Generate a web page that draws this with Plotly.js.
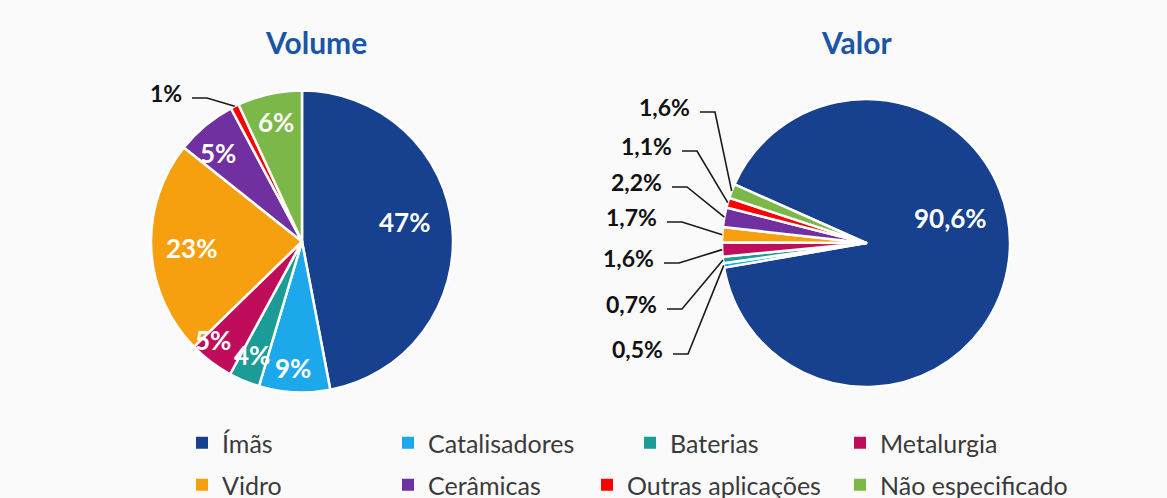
<!DOCTYPE html>
<html><head><meta charset="utf-8">
<script src="https://cdn.plot.ly/plotly-3.0.1.min.js"></script>
<style>html,body{margin:0;padding:0;background:#fafafa}</style>
</head><body><div id="chart" style="width:1167px;height:498px"></div>
<script>
// ---- data ----
const categories = ['Ímãs','Catalisadores','Baterias','Metalurgia','Vidro','Cerâmicas','Outras aplicações','Não especificado'];
const volumeValues = [47, 7.6, 3.3, 4.8, 23, 6.5, 0.9, 6.9];          // slice shares as drawn
const volumeLabels = ['47%','9%','4%','5%','23%','5%','1%','6%'];     // printed labels
const valorValues = [90.6, 0.5, 0.7, 1.6, 1.7, 2.2, 1.1, 1.6];
const colors = ['#17408f','#1ea8ec','#1b9c96','#c00d5b','#f7a00f','#7030a0','#ff0000','#7cb848'];
const chartTitles = ['Volume','Valor'];

// ---- layout constants (pixels) ----
const W = 1167, H = 498;
const FONT = 'Lato, "Open Sans", sans-serif';
const VOL = {cx: 302, cy: 241.5, r: 151, rot: 0};
const VAL = {cx: 866, cy: 243, r: 144, rot: -66};
// inside label placement: radial fraction and angular offset from slice middle
const volumeLabelR  = [0.69, 0.84, 0.82, 0.88, 0.73, 0.81, null, 0.81];
const volumeLabelDA = [-5.3, 1.1, 1.3, 4.9, -0.5, -3.7, 0, 0.1];
const valorLabelR  = [0.61, null, null, null, null, null, null, null];
const valorLabelDA = [-23.7, 0, 0, 0, 0, 0, 0, 0];
// outside labels: leader-line start x and y
const volumeLeaderX = [null, null, null, null, null, null, 192, null];
const volumeLeaderY = [null, null, null, null, null, null, 98, null];
const valorLeaderX = [null, 673, 667, 664, 667, 672, 682, 700];
const valorLeaderY = [null, 354, 309, 263, 222, 187, 151, 112];
// legend entries: text start x and centre y of each entry
const legendTextX = [222, 428, 670, 880, 222, 428, 627, 880];
const legendRowY = [443, 485];

const px = x => x / W, py = y => 1 - y / H;
function dom(p) {
  return {x: [px(p.cx - p.r), px(p.cx + p.r)], y: [py(p.cy + p.r), py(p.cy - p.r)]};
}
function midAngles(values, rot) {
  const total = values.reduce((a, b) => a + b, 0);
  let cum = 0;
  return values.map(v => { const m = rot + (cum + v / 2) / total * 360; cum += v; return m; });
}
function polar(p, deg, f) {
  const a = deg * Math.PI / 180;
  return [p.cx + f * p.r * Math.sin(a), p.cy - f * p.r * Math.cos(a)];
}

const pieBase = {
  type: 'pie', labels: categories, sort: false, direction: 'clockwise',
  textinfo: 'none', marker: {colors: colors, line: {color: '#ffffff', width: 2.5}},
  showlegend: false, hoverinfo: 'label+percent'
};
const volumePie = Object.assign({}, pieBase, {values: volumeValues, rotation: VOL.rot, domain: dom(VOL)});
const valorPie = Object.assign({}, pieBase, {values: valorValues, rotation: VAL.rot, domain: dom(VAL)});

const legendKey = i => i === 0 ? 'legend' : 'legend' + (i + 1);
const legendTraces = categories.map((c, i) => ({
  type: 'scatter', mode: 'markers', x: [null], y: [null], name: c,
  marker: {symbol: 'square', size: 12, color: colors[i]},
  legend: legendKey(i), hoverinfo: 'skip'
}));

const annotations = [];
const shapes = [];
const inFont = {family: FONT, size: 26, weight: 'bold', color: '#ffffff'};
const outFont = {family: FONT, size: 23, weight: 'bold', color: '#111111'};

function addLabels(p, values, texts, rArr, daArr, lxArr, lyArr) {
  const mids = midAngles(values, p.rot);
  values.forEach((v, i) => {
    if (rArr[i] != null) {
      const [x, y] = polar(p, mids[i] + daArr[i], rArr[i]);
      annotations.push({text: texts[i], x: px(x), y: py(y), xanchor: 'center', yanchor: 'middle', font: inFont});
    } else if (lxArr[i] != null) {
      const [ex, ey] = polar(p, mids[i], 1);
      const x0 = lxArr[i], y0 = lyArr[i], x1 = x0 + 15;
      shapes.push({type: 'path', xref: 'paper', yref: 'paper',
        path: `M${px(x0)},${py(y0)} L${px(x1)},${py(y0)} L${px(ex)},${py(ey)}`,
        line: {color: '#1a1a1a', width: 1.6}});
      annotations.push({text: texts[i], x: px(x0 - 8), y: py(y0 - 5), xanchor: 'right', yanchor: 'middle', font: outFont});
    }
  });
}
const valorTexts = valorValues.map(v => v.toFixed(1).replace('.', ',') + '%');
addLabels(VOL, volumeValues, volumeLabels, volumeLabelR, volumeLabelDA, volumeLeaderX, volumeLeaderY);
addLabels(VAL, valorValues, valorTexts, valorLabelR, valorLabelDA, valorLeaderX, valorLeaderY);

annotations.push(
  {text: chartTitles[0], x: px(316), y: py(42)},
  {text: chartTitles[1], x: px(856), y: py(42)}
);
annotations.forEach(a => Object.assign(a, {xref: 'paper', yref: 'paper', showarrow: false}));
annotations.slice(-2).forEach(a => Object.assign(a, {xanchor: 'center', yanchor: 'middle',
  font: {family: FONT, size: 30, weight: 'bold', color: '#1a55a6'}}));

const layout = {
  width: W, height: H, margin: {l: 0, r: 0, t: 0, b: 0, autoexpand: false},
  paper_bgcolor: '#fafafa', plot_bgcolor: '#fafafa',
  xaxis: {visible: false}, yaxis: {visible: false},
  annotations: annotations, shapes: shapes
};
categories.forEach((c, i) => {
  layout[legendKey(i)] = {
    orientation: 'h', xanchor: 'left', yanchor: 'middle',
    x: px(legendTextX[i] - 40), y: py(legendRowY[Math.floor(i / 4)]),
    bgcolor: 'rgba(0,0,0,0)',
    font: {family: FONT, size: 25, color: '#3a3a3a'}
  };
});
Plotly.newPlot('chart', [volumePie, valorPie].concat(legendTraces), layout, {displayModeBar: false, staticPlot: true});
</script></body></html>
